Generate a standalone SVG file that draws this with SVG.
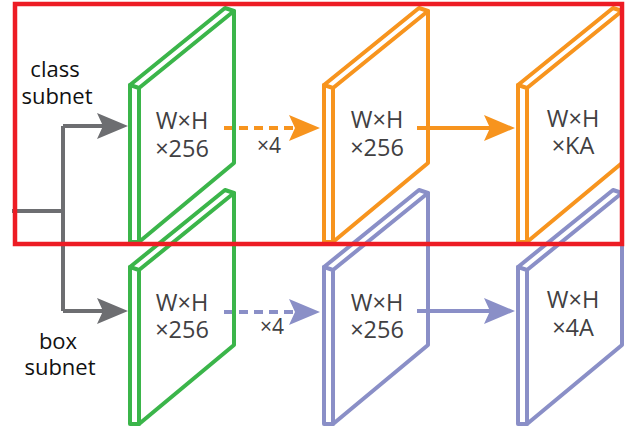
<svg xmlns="http://www.w3.org/2000/svg" xmlns:xlink="http://www.w3.org/1999/xlink" width="635" height="436" viewBox="0 0 635 436">
  <style>
    .green { stroke: #3bb54a; }
    .orange { stroke: #f7941e; }
    .purple { stroke: #8a8fc7; }
    .lbl { font-family: "Open Sans", "Noto Sans", sans-serif; font-size: 23.5px; fill: #414042; text-anchor: middle; }
    .rep { font-family: "Open Sans", "Noto Sans", sans-serif; font-size: 21px; fill: #414042; text-anchor: middle; }
    .sub { font-family: "Open Sans", "Noto Sans", sans-serif; font-size: 22px; fill: #111111; text-anchor: middle; }
    .ln { fill: none; stroke-width: 4; }
    .dash { stroke-dasharray: 9 6; }
  </style>
  <defs>
    <g id="slabShape" fill="none" stroke-width="4" stroke-linejoin="round" stroke-linecap="round">
      <path d="M130,85 L225,8 L234,11 L234,163 L139,242 L130,242 Z"/>
      <path d="M130,85 L139,88 L234,11 M139,88 L139,242"/>
    </g>
    <path id="head" d="M0,0 L-31,-13 L-25,0 L-31,13 Z"/>
  </defs>

  <g id="connectors">
    <path class="ln" stroke="#6d6e71" d="M12,211 H63 M63,126 V311 M63,126 H105 M63,311 H105"/>
    <use xlink:href="#head" fill="#6d6e71" transform="translate(128,126)"/>
    <use xlink:href="#head" fill="#6d6e71" transform="translate(128,311)"/>

    <path class="ln dash" stroke="#f7941e" d="M224,128 H295"/>
    <use xlink:href="#head" fill="#f7941e" transform="translate(320,128)"/>
    <path class="ln" stroke="#f7941e" d="M417,128 H492"/>
    <use xlink:href="#head" fill="#f7941e" transform="translate(515,128)"/>

    <path class="ln dash" stroke="#8a8fc7" d="M224,312 H295"/>
    <use xlink:href="#head" fill="#8a8fc7" transform="translate(320,312)"/>
    <path class="ln" stroke="#8a8fc7" d="M417,311 H492"/>
    <use xlink:href="#head" fill="#8a8fc7" transform="translate(515,311)"/>

    <text class="rep" x="269" y="153">×4</text>
    <text class="rep" x="272" y="334">×4</text>
  </g>

  <g id="class-subnet-label">
    <text class="sub" x="55" y="77">class</text>
    <text class="sub" x="57" y="104">subnet</text>
  </g>
  <g id="box-subnet-label">
    <text class="sub" x="58" y="349">box</text>
    <text class="sub" x="60" y="375">subnet</text>
  </g>

  <g id="class-conv">
    <use xlink:href="#slabShape" class="green"/>
    <text class="lbl" x="182" y="129">W×H</text>
    <text class="lbl" x="182" y="157">×256</text>
  </g>
  <g id="class-conv4">
    <use xlink:href="#slabShape" class="orange" transform="translate(194,0)"/>
    <text class="lbl" x="377" y="128">W×H</text>
    <text class="lbl" x="377" y="156">×256</text>
  </g>
  <g id="class-out">
    <use xlink:href="#slabShape" class="orange" transform="translate(388,0)"/>
    <text class="lbl" x="573" y="127">W×H</text>
    <text class="lbl" x="573" y="154">×KA</text>
  </g>

  <g id="box-conv">
    <use xlink:href="#slabShape" class="green" transform="translate(0,182)"/>
    <text class="lbl" x="182" y="311">W×H</text>
    <text class="lbl" x="182" y="338">×256</text>
  </g>
  <g id="box-conv4">
    <use xlink:href="#slabShape" class="purple" transform="translate(194,182)"/>
    <text class="lbl" x="377" y="311">W×H</text>
    <text class="lbl" x="377" y="338">×256</text>
  </g>
  <g id="box-out">
    <use xlink:href="#slabShape" class="purple" transform="translate(388,182)"/>
    <text class="lbl" x="573" y="308">W×H</text>
    <text class="lbl" x="573" y="336">×4A</text>
  </g>

  <g id="class-subnet-box">
    <rect x="15" y="4" width="607" height="240" fill="none" stroke="#ed1c24" stroke-width="4.5"/>
  </g>
</svg>
